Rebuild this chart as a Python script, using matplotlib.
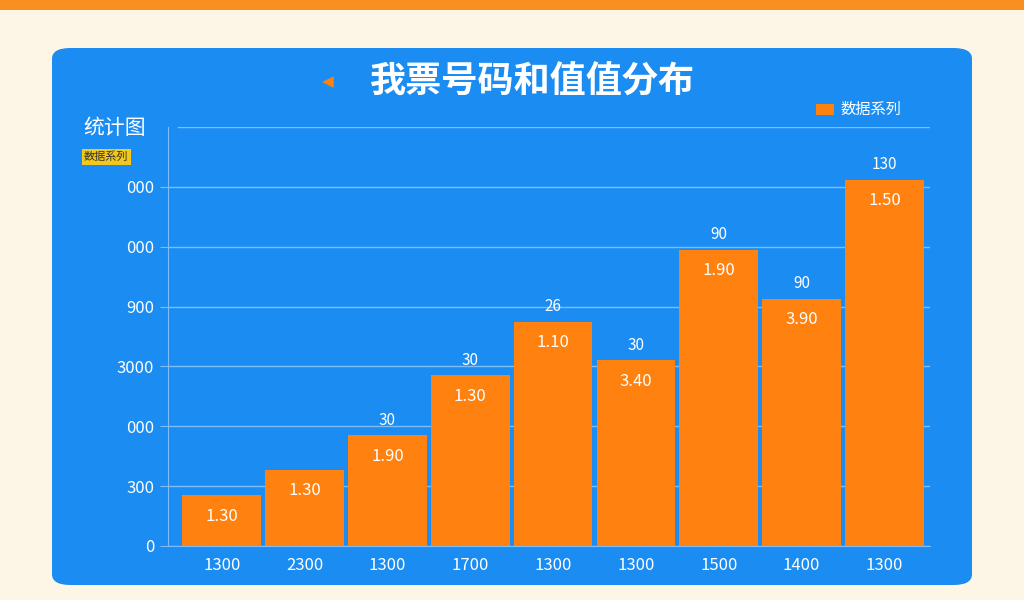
import matplotlib.pyplot as plt
from matplotlib import font_manager
from matplotlib.patches import FancyBboxPatch, Rectangle

available = {f.name for f in font_manager.fontManager.ttflist}
preferred = ["Noto Sans CJK SC", "Noto Sans CJK JP", "Noto Sans CJK TC", "Noto Sans CJK KR"]
cjk_fonts = [n for n in preferred if n in available]
cjk_fonts += sorted(n for n in available if "CJK" in n and "Sans" in n and n not in cjk_fonts)
plt.rcParams["font.family"] = "sans-serif"
plt.rcParams["font.sans-serif"] = cjk_fonts + ["DejaVu Sans"]

W, H = 1024, 600
categories = ["1300", "2300", "1300", "1700", "1300", "1300", "1500", "1400", "1300"]
values = [0.85, 1.27, 1.85, 2.85, 3.75, 3.1, 4.95, 4.13, 6.12]
inner_labels = ["1.30", "1.30", "1.90", "1.30", "1.10", "3.40", "1.90", "3.90", "1.50"]
top_labels = ["", "", "30", "30", "26", "30", "90", "90", "130"]
tick_values = [0, 1, 2, 3, 4, 5, 6]
tick_labels = ["0", "300", "000", "3000", "900", "000", "000"]

BLUE = "#1a8cf2"
ORANGE = "#ff8210"
GRID = "#7fbdf6"

fig = plt.figure(figsize=(W / 100, H / 100), dpi=100)
fig.patch.set_facecolor("#fdf5e6")


def fx(px):
    return px / W


def fy(py):
    return 1 - py / H


# top orange band
fig.patches.append(Rectangle((0, fy(10)), 1, 10 / H, transform=fig.transFigure,
                             facecolor="#f7901e", edgecolor="none", zorder=0))
# blue panel
fig.patches.append(FancyBboxPatch((fx(52), fy(585)), fx(920), 537 / H,
                                  boxstyle="round,pad=0,rounding_size=0.018",
                                  transform=fig.transFigure, facecolor=BLUE,
                                  edgecolor="none", zorder=0))

ax = fig.add_axes([fx(168), fy(546), fx(762), (546 - 127) / H])
ax.set_zorder(2)
ax.set_facecolor("none")
x = list(range(len(categories)))
ax.bar(x, values, width=0.95, color=ORANGE, zorder=3)
ax.set_xlim(-0.65, len(categories) - 0.45)
ax.set_ylim(0, 7)
ax.set_yticks(tick_values)
ax.set_yticklabels(tick_labels, color="white", fontsize=12)
ax.set_xticks(x)
ax.set_xticklabels(categories, color="white", fontsize=12)
ax.tick_params(axis="y", length=6, color=GRID, pad=4)
ax.tick_params(axis="x", length=0, pad=8)
ax.axhline(7, xmin=0.013, color=GRID, lw=1, zorder=1)
ax.grid(axis="y", color=GRID, lw=1, zorder=1)
for s in ["top", "right"]:
    ax.spines[s].set_visible(False)
ax.spines["left"].set_color(GRID)
ax.spines["bottom"].set_color(GRID)

for xi, v, inner, top in zip(x, values, inner_labels, top_labels):
    ax.text(xi, v - 0.35, inner, ha="center", va="center", color="white", fontsize=12, zorder=4)
    if top:
        ax.text(xi, v + 0.25, top, ha="center", va="center", color="white", fontsize=11, zorder=4)

# title and side labels
fig.text(fx(532), fy(82), "我票号码和值值分布", ha="center", va="center",
         color="white", fontsize=26, fontweight="bold")
fig.text(fx(328), fy(82), "◀", ha="center", va="center", color=ORANGE, fontsize=11,
         family="DejaVu Sans")
fig.text(fx(83), fy(128), "统计图", ha="left", va="center", color="white", fontsize=15)
fig.text(fx(84), fy(157), "数据系列", ha="left", va="center", color="#333333", fontsize=8,
         bbox=dict(boxstyle="square,pad=0.2", facecolor="#f2c81c", edgecolor="none"))
# legend
fig.patches.append(Rectangle((fx(816), fy(115)), fx(18), 11 / H, transform=fig.transFigure,
                             facecolor=ORANGE, edgecolor="none"))
fig.text(fx(840), fy(109), "数据系列", ha="left", va="center", color="white", fontsize=11)

fig.savefig("out.png", dpi=100, facecolor=fig.get_facecolor())
